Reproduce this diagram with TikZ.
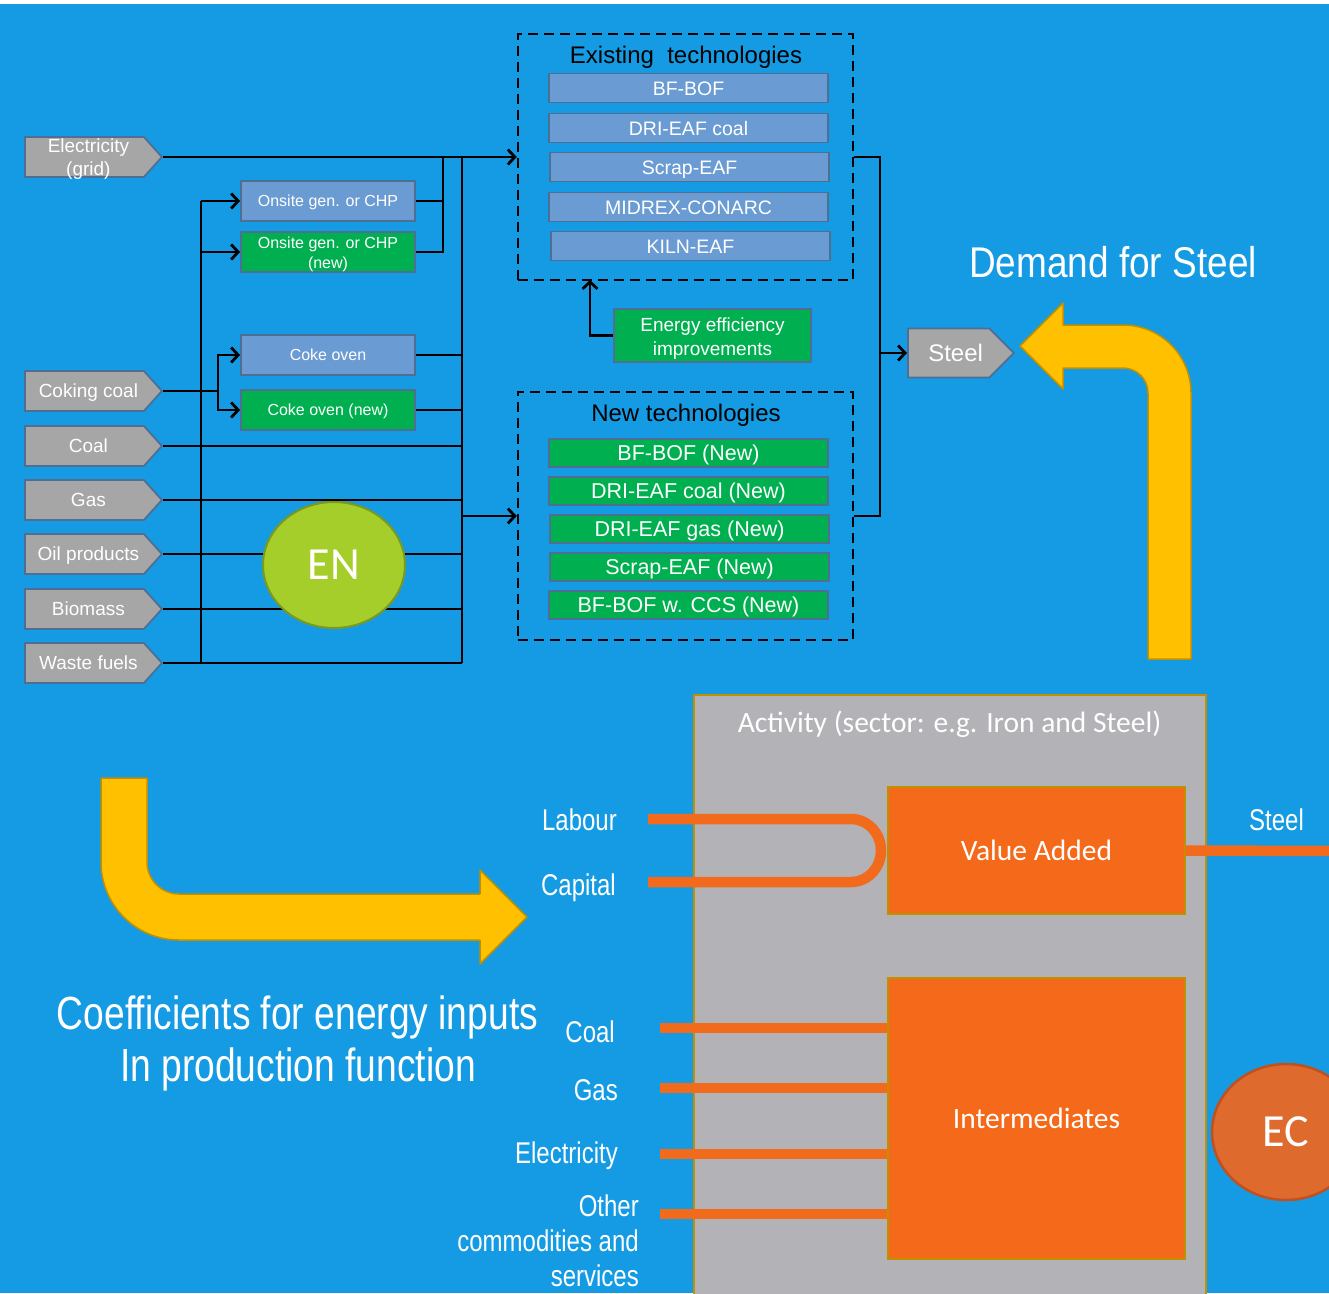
\documentclass[tikz,border=0pt]{standalone}
\usepackage{fontspec}
\setmainfont{Liberation Sans}
\newfontfamily\narrowfont[FakeStretch=0.8]{Liberation Sans}
\newfontfamily\demandfont[FakeStretch=0.86]{Liberation Sans}
\newfontfamily\calfont{Carlito}
\usetikzlibrary{arrows.meta,shapes.symbols,shapes.geometric}

\definecolor{bgblue}{HTML}{149BE3}
\definecolor{fuelgray}{HTML}{A6A6A6}
\definecolor{edgeblue}{HTML}{4F6E94}
\definecolor{procblue}{HTML}{6A9BD2}
\definecolor{procgreen}{HTML}{00B050}
\definecolor{engreen}{HTML}{A6CE2A}
\definecolor{endark}{HTML}{7A9A1E}
\definecolor{actgray}{HTML}{B3B2B6}
\definecolor{goldedge}{HTML}{BF9000}
\definecolor{flow}{HTML}{F26A1B}
\definecolor{boxorange}{HTML}{F4691A}
\definecolor{ecorange}{HTML}{DE6B2D}
\definecolor{ecedge}{HTML}{C0501E}
\definecolor{yellowarrow}{HTML}{FFC000}

\tikzset{
  % single text line, centred on its capital letters
  oneline/.style={text height=#1, text depth=0pt},
  fuel/.style={shape=signal, signal to=east, signal pointer angle=96,
    draw=edgeblue, fill=fuelgray, line width=1.8pt,
    minimum width=137pt, minimum height=40pt, inner sep=1pt,
    text=white, align=center, font=\fontsize{19}{23}\selectfont, anchor=west},
  fuelone/.style={fuel, oneline=13.7pt},
  procbox/.style={rectangle, draw=edgeblue, line width=1.8pt, text=white,
    align=center, inner sep=0pt},
  bluebox/.style={procbox, fill=procblue},
  greenbox/.style={procbox, fill=procgreen},
  smallbox/.style={minimum width=174pt, minimum height=40pt,
    font=\fontsize{16}{20}\selectfont},
  oldtech/.style={bluebox, oneline=14pt, minimum width=279pt, minimum height=29pt,
    font=\fontsize{19.5}{22}\selectfont},
  newtech/.style={greenbox, oneline=15.5pt, minimum width=279pt, minimum height=28pt,
    font=\fontsize{21.5}{24}\selectfont},
  dashbox/.style={rectangle, draw=black, line width=2.5pt,
    dash pattern=on 10pt off 6pt, inner sep=0pt},
  boxtitle/.style={text=black, oneline=17.3pt, font=\fontsize{24}{28}\selectfont, inner sep=0pt},
  wire/.style={draw=black, line width=2.8pt},
  wirearrow/.style={wire, -{Straight Barb[length=7pt,width=15pt]}},
  yarrow/.style={fill=yellowarrow, draw=goldedge, line width=1.5pt, line join=round},
  band/.style={draw=flow, line width=10.5pt},
  flowlabel/.style={text=white, font=\narrowfont\fontsize{30}{35}\selectfont,
    inner sep=0pt, anchor=base east},
  bigtext/.style={text=white, font=\narrowfont\fontsize{46.5}{52}\selectfont,
    inner sep=0pt, anchor=base},
  orangebox/.style={rectangle, fill=boxorange, draw=goldedge, line width=1.2pt,
    text=white, font=\calfont\fontsize{29.5}{34}\selectfont, inner sep=0pt}
}

\begin{document}
\begin{tikzpicture}[x=1pt,y=-1pt]
\clip (0,0) rectangle (1329,1293);
\fill[white] (0,0) rectangle (1329,1293);
\fill[bgblue] (0,4) rectangle (1329,1293);

% ---------- fuel inputs ----------
\node[fuel, inner ysep=-3pt] (elec) at (24,157)
  {\rule{0pt}{17pt}\hspace*{8pt}Electricity\\\hspace*{8pt}(grid)};
\node[fuelone] (coking) at (24,391) {\hspace*{8pt}Coking coal};
\node[fuelone] (coal) at (24,446) {\hspace*{8pt}Coal};
\node[fuelone] (gas) at (24,500) {\hspace*{8pt}Gas};
\node[fuelone] (oil) at (24,554) {\hspace*{8pt}Oil products};
\node[fuelone] (bio) at (24,609) {\hspace*{8pt}Biomass};
\node[fuelone] (waste) at (24,663) {\hspace*{8pt}Waste fuels};

% ---------- conversion processes ----------
\node[bluebox, smallbox, oneline=11.5pt] (chp) at (328,201) {Onsite gen. or CHP};
\node[greenbox, smallbox] (chpnew) at (328,252) {\rule{0pt}{16pt}Onsite gen. or CHP\\(new)};
\node[bluebox, smallbox, oneline=11.5pt] (coke) at (328,355) {Coke oven};
\node[greenbox, smallbox, oneline=11.5pt] (cokenew) at (328,410) {Coke oven (new)};

% ---------- technology groups ----------
\node[dashbox, minimum width=335pt, minimum height=246pt] (exist) at (685.5,157) {};
\node[boxtitle] (existtitle) at (686,55) {Existing\ \ technologies};
\node[oldtech] (t1) at (688.5,88) {BF-BOF};
\node[oldtech] (t2) at (688.5,128) {DRI-EAF coal};
\node[oldtech] (t3) at (689.5,167) {Scrap-EAF};
\node[oldtech] (t4) at (688.5,207) {MIDREX-CONARC};
\node[oldtech] (t5) at (690.5,246) {KILN-EAF};

\node[dashbox, minimum width=335pt, minimum height=248pt] (newbox) at (685.5,516) {};
\node[boxtitle] (newtitle) at (686,413) {New technologies};
\node[newtech] (n1) at (688.5,453) {BF-BOF (New)};
\node[newtech] (n2) at (688.5,491) {DRI-EAF coal (New)};
\node[newtech] (n3) at (689.5,529) {DRI-EAF gas (New)};
\node[newtech] (n4) at (689.5,567) {Scrap-EAF (New)};
\node[newtech] (n5) at (688.5,605) {BF-BOF w. CCS (New)};

\node[greenbox, minimum width=197pt, minimum height=53pt,
  font=\fontsize{19}{24}\selectfont] (eff) at (712.5,335.5)
  {\rule{0pt}{20pt}Energy efficiency\\improvements};

\node[shape=signal, signal to=east, signal pointer angle=90, draw=edgeblue,
  fill=fuelgray, line width=1.8pt, minimum width=106pt, minimum height=49pt,
  inner sep=1pt, oneline=17.3pt, text=white, font=\fontsize{24}{28}\selectfont, anchor=west]
  (steel) at (907,353) {\hspace*{14pt}Steel};

% ---------- junction points ----------
\coordinate (busA) at (443,157);
\coordinate (busB) at (462,157);
\coordinate (busBend) at (462,663);
\coordinate (busL) at (201,201);
\coordinate (busLend) at (201,663);
\coordinate (cokefork) at (218,391);
\coordinate (effbend) at (590,280);
\coordinate (outbus) at (880,157);

% ---------- connectors ----------
\draw[wirearrow] (elec.east) -- (exist.west);
\draw[wire] (chp.east) -| (busA);
\draw[wire] (chpnew.east) -| (busA);
\draw[wire] (busB) -- (busBend);
\draw[wire] (coke.east) -- (coke.east -| busB);
\draw[wire] (cokenew.east) -- (cokenew.east -| busB);
\draw[wire] (coal.east) -- (coal.east -| busB);
\draw[wire] (gas.east) -- (gas.east -| busB);
\draw[wire] (oil.east) -- (oil.east -| busB);
\draw[wire] (bio.east) -- (bio.east -| busB);
\draw[wire] (waste.east) -- (busBend);
\draw[wirearrow] (busB |- newbox.west) -- (newbox.west);
\draw[wire] (busL) -- (busLend);
\draw[wirearrow] (busL) -- (chp.west);
\draw[wirearrow] (busL |- chpnew.west) -- (chpnew.west);
\draw[wire] (coking.east) -- (cokefork);
\draw[wirearrow] (cokefork) |- (coke.west);
\draw[wirearrow] (cokefork) |- (cokenew.west);
\draw[wirearrow] (eff.west) -| (effbend);
\draw[wire] (exist.east) -| (outbus |- newbox.east) -- (newbox.east);
\draw[wirearrow] (outbus |- steel.west) -- (steel.west);

\node[ellipse, minimum width=142pt, minimum height=126pt, fill=engreen,
  draw=endark, line width=2pt, text=white, inner sep=0pt,
  font=\calfont\fontsize{46}{50}\selectfont] (en) at (334,565) {EN};

% ---------- demand arrow ----------
\node[text=white, font=\demandfont\fontsize{43}{48}\selectfont, inner sep=0pt,
  anchor=base] (demand) at (1113,277) {Demand for Steel};
\filldraw[yarrow] (1148,659) -- (1148,393) arc[start angle=0, end angle=-90, radius=25]
  -- (1063,368) -- (1063,389) -- (1020,346) -- (1063,303) -- (1063,325)
  -- (1123,325) arc[start angle=-90, end angle=0, radius=68] -- (1191,659) -- cycle;

% ---------- production function ----------
\filldraw[yarrow] (101,778) -- (101,862) arc[start angle=180, end angle=90, radius=78]
  -- (480,940) -- (480,964) -- (527,917) -- (480,870) -- (480,894)
  -- (179,894) arc[start angle=90, end angle=180, radius=32] -- (147,778) -- cycle;
\node[bigtext] (coef1) at (297.5,1029) {Coefficients for energy inputs};
\node[bigtext] (coef2) at (298,1081) {In production function};

\node[rectangle, fill=actgray, draw=goldedge, line width=2pt, anchor=north west,
  minimum width=512pt, minimum height=640pt, inner sep=0pt] (act) at (693,694) {};
\node[text=white, font=\calfont\fontsize{29.5}{34}\selectfont, inner sep=0pt,
  anchor=base] (acttitle) at (949.5,732) {Activity (sector: e.g. Iron and Steel)};

\coordinate (labin) at (648,819);
\coordinate (capin) at (648,882);
\coordinate (coalin) at (660,1028);
\coordinate (gasin) at (660,1088);
\coordinate (elecin) at (660,1154);
\coordinate (otherin) at (660,1214);
\coordinate (steelout) at (1340,851);

\draw[band] (labin) -- (851,819) arc[start angle=-90, end angle=90, x radius=30, y radius=31.5] -- (capin);
\node[orangebox, minimum width=297pt, minimum height=127pt] (va) at (1036.5,850.5) {Value Added};
\node[orangebox, minimum width=297pt, minimum height=281pt] (inter) at (1036.5,1118.5) {Intermediates};
\draw[band] (coalin) -- (coalin -| inter.west);
\draw[band] (gasin) -- (gasin -| inter.west);
\draw[band] (elecin) -- (elecin -| inter.west);
\draw[band] (otherin) -- (otherin -| inter.west);
\draw[band] (va.east) -- (steelout);

\node[flowlabel] (lablab) at (617,830) {Labour};
\node[flowlabel] (caplab) at (616,895) {Capital};
\node[flowlabel] (coallab) at (615,1042) {Coal};
\node[flowlabel] (gaslab) at (618,1100) {Gas};
\node[flowlabel] (eleclab) at (618,1163) {Electricity};
\node[flowlabel] (oth1) at (639,1216) {Other};
\node[flowlabel] (oth2) at (639,1251) {commodities and};
\node[flowlabel] (oth3) at (639,1286) {services};
\node[flowlabel, anchor=base] (steellab) at (1276.5,830) {Steel};

\node[ellipse, minimum width=148pt, minimum height=136pt, fill=ecorange,
  draw=ecedge, line width=2.5pt, text=white, inner sep=0pt,
  font=\calfont\fontsize{46}{50}\selectfont] (ec) at (1286,1132) {EC};
\end{tikzpicture}
\end{document}
